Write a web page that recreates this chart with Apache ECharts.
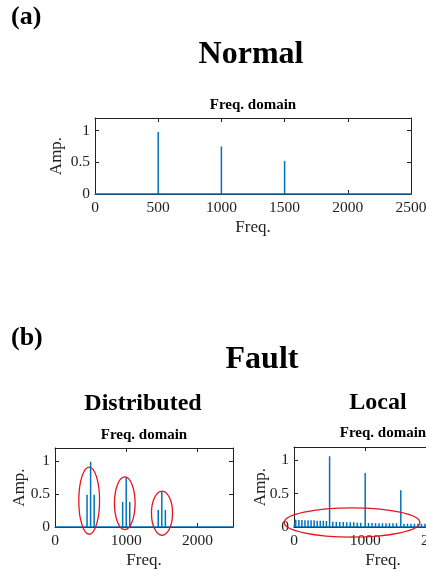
<!DOCTYPE html>
<html>
<head>
<meta charset="utf-8">
<script src="https://cdn.jsdelivr.net/npm/echarts@6/dist/echarts.min.js"></script>
<style>
  html, body { margin: 0; padding: 0; background: #fff; }
  #chart { width: 426px; height: 571px; }
</style>
</head>
<body>
<div id="chart"></div>
<script>
// ---- data ----
const normalFreq = [500, 1000, 1500];
const normalAmp = [0.98, 0.75, 0.52];

const distFreq = [450, 500, 550, 950, 1000, 1050, 1450, 1500, 1550];
const distAmp = [0.49, 0.99, 0.49, 0.38, 0.76, 0.38, 0.26, 0.53, 0.26];

const localFreq = [
  25, 68, 111, 154, 197, 240, 283, 326, 369, 412, 455,
  500,
  545, 594, 643, 692, 741, 790, 839, 888, 937,
  1000,
  1047, 1096, 1145, 1194, 1243, 1292, 1341, 1390, 1439,
  1500,
  1545, 1594, 1643, 1692, 1741, 1790, 1839, 1888, 1937, 1986,
  2035, 2084, 2133, 2182, 2231, 2280, 2329, 2378, 2427, 2476
];
const localAmp = [
  0.11, 0.105, 0.105, 0.1, 0.1, 0.1, 0.1, 0.095, 0.095, 0.095, 0.09,
  1.06,
  0.08, 0.08, 0.075, 0.075, 0.07, 0.07, 0.07, 0.065, 0.065,
  0.81,
  0.06, 0.06, 0.058, 0.058, 0.056, 0.056, 0.055, 0.055, 0.055,
  0.55,
  0.05, 0.05, 0.05, 0.05, 0.048, 0.048, 0.048, 0.046, 0.046, 0.046,
  0.045, 0.045, 0.044, 0.044, 0.043, 0.043, 0.042, 0.042, 0.041, 0.041
];

// red rings (centre freq, centre amp, radius freq, radius amp)
const distRings = [
  [480, 0.40, 146, 0.51],
  [980, 0.36, 145, 0.40],
  [1503, 0.21, 148, 0.335]
];
const localRing = [815, 0.068, 952, 0.22];

const FREQ_MAX = 2500;
const AMP_MAX = 1.2;

// ---- helpers ----
const BLUE = '#0072BD';
const FONT = '"Liberation Serif", "Times New Roman", serif';

// the FFT trace: flat at zero with a vertical spike at each frequency
function spikes(freqs, amps) {
  const pts = [[0, 0]];
  freqs.forEach((f, i) => {
    pts.push([f, 0], [f, amps[i]], [f, 0]);
  });
  pts.push([FREQ_MAX, 0]);
  return pts;
}

function xAxes(grid, interval, showMax) {
  return [
    {
      gridIndex: grid, type: 'value', min: 0, max: FREQ_MAX, interval: interval,
      name: 'Freq.', nameLocation: 'middle', nameGap: 25, nameMoveOverlap: false,
      nameTextStyle: { fontFamily: FONT, fontSize: 17, color: '#222' },
      axisLine: { onZero: false, lineStyle: { color: '#222', width: 1 } },
      axisTick: { inside: true, length: 4, lineStyle: { color: '#222' } },
      axisLabel: {
        fontFamily: FONT, fontSize: 15.5, color: '#222', margin: 6,
        showMaxLabel: showMax, formatter: (v) => String(v)
      },
      splitLine: { show: false }
    },
    {
      gridIndex: grid, type: 'value', position: 'top', min: 0, max: FREQ_MAX, interval: interval,
      axisLine: { onZero: false, lineStyle: { color: '#222', width: 1 } },
      axisTick: { inside: true, length: 4, lineStyle: { color: '#222' } },
      axisLabel: { show: false },
      splitLine: { show: false }
    }
  ];
}

function yAxes(grid, gap) {
  return [
    {
      gridIndex: grid, type: 'value', min: 0, max: AMP_MAX, interval: 0.5,
      name: 'Amp.', nameLocation: 'middle', nameGap: gap, nameRotate: 90, nameMoveOverlap: false,
      nameTextStyle: { fontFamily: FONT, fontSize: 17, color: '#222' },
      axisLine: { show: true, onZero: false, lineStyle: { color: '#222', width: 1 } },
      axisTick: { show: true, inside: true, length: 4, lineStyle: { color: '#222' } },
      axisLabel: { fontFamily: FONT, fontSize: 15.5, color: '#222', margin: 5, showMaxLabel: false },
      splitLine: { show: false }
    },
    {
      gridIndex: grid, type: 'value', position: 'right', min: 0, max: AMP_MAX, interval: 0.5,
      axisLine: { show: true, onZero: false, lineStyle: { color: '#222', width: 1 } },
      axisTick: { show: true, inside: true, length: 4, lineStyle: { color: '#222' } },
      axisLabel: { show: false },
      splitLine: { show: false }
    }
  ];
}

function trace(idx, data) {
  return {
    type: 'line', xAxisIndex: idx, yAxisIndex: idx, data: data,
    showSymbol: false, symbol: 'none', animation: false,
    lineStyle: { color: BLUE, width: 1.5 }
  };
}

function text(id, str, x, y, size, align) {
  return {
    type: 'text', id: id, x: x, y: y,
    style: {
      text: str, fontFamily: FONT, fontSize: size, fontWeight: 'bold', fill: '#000',
      textAlign: align || 'center', textVerticalAlign: 'middle'
    }
  };
}

const chart = echarts.init(document.getElementById('chart'));

chart.setOption({
  animation: false,
  backgroundColor: '#fff',
  grid: [
    { left: 95, top: 118, width: 316, height: 76, outerBoundsMode: 'none', containLabel: false },
    { left: 55, top: 448, width: 178, height: 79, outerBoundsMode: 'none', containLabel: false },
    { left: 294, top: 447, width: 178, height: 80, outerBoundsMode: 'none', containLabel: false }
  ],
  xAxis: [...xAxes(0, 500, true), ...xAxes(1, 1000, false), ...xAxes(2, 1000, false)],
  yAxis: [...yAxes(0, 30), ...yAxes(1, 27), ...yAxes(2, 25)],
  series: [
    trace(0, spikes(normalFreq, normalAmp)),
    trace(2, spikes(distFreq, distAmp)),
    trace(4, spikes(localFreq, localAmp))
  ],
  graphic: [
    text('ta', '(a)', 11, 17, 26, 'left'),
    text('tn', 'Normal', 251, 55, 32),
    text('s0', 'Freq. domain', 253, 105, 15),
    text('tb', '(b)', 11, 338, 26, 'left'),
    text('tf', 'Fault', 262, 360, 32),
    text('td', 'Distributed', 143, 404, 24),
    text('tl', 'Local', 378, 403, 24),
    text('s1', 'Freq. domain', 144, 435, 15),
    text('s2', 'Freq. domain', 383, 433, 15)
  ]
});

// red rings placed in data units through the axes
function ring(id, axisIdx, r) {
  const c = chart.convertToPixel({ xAxisIndex: axisIdx, yAxisIndex: axisIdx }, [r[0], r[1]]);
  const e = chart.convertToPixel({ xAxisIndex: axisIdx, yAxisIndex: axisIdx }, [r[0] + r[2], r[1] + r[3]]);
  return {
    type: 'ellipse', id: id, z: 100,
    shape: { cx: c[0], cy: c[1], rx: Math.abs(e[0] - c[0]), ry: Math.abs(c[1] - e[1]) },
    style: { fill: 'none', stroke: '#e8141c', lineWidth: 1.3 }
  };
}

chart.setOption({
  graphic: [
    ...distRings.map((r, i) => ring('r' + i, 2, r)),
    ring('rl', 4, localRing)
  ]
});
</script>
</body>
</html>
